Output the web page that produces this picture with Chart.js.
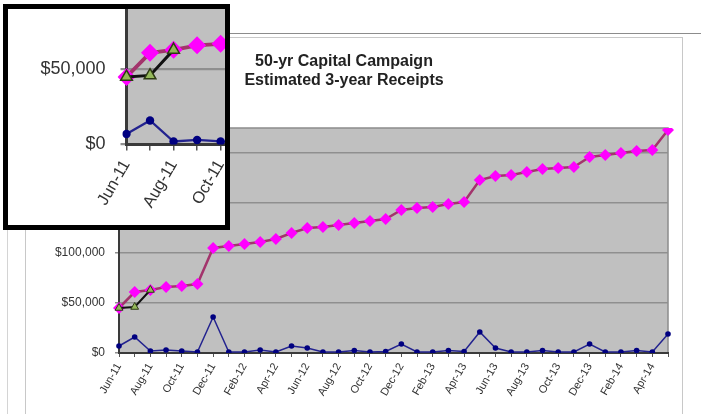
<!DOCTYPE html>
<html>
<head>
<meta charset="utf-8">
<script src="https://cdn.jsdelivr.net/npm/chart.js@4.4.0/dist/chart.umd.min.js"></script>
<style>
  html, body { margin: 0; padding: 0; background: #fff; }
  body { width: 701px; height: 414px; position: relative; overflow: hidden; }
  #frame { position: absolute; left: 7px; top: 33px; right: -2px; bottom: -2px; border-left: 1px solid #d4d4d4; border-top: 1px solid #8c8c8c; }
  #box { position: absolute; left: 25px; top: 37px; width: 656px; height: 400px; border: 1px solid #c8c8c8; }
  #main { position: absolute; left: 10px; top: 37px; }
  #inset { position: absolute; left: 3px; top: 4px; width: 217px; height: 216px; border: 5px solid #000; background: #fff; overflow: hidden; }
  #zoom { position: absolute; left: 0; top: 0; }
</style>
</head>
<body>
<div id="frame"></div>
<div id="box"></div>
<canvas id="main" width="672" height="377"></canvas>
<div id="inset"><canvas id="zoom" width="1008" height="566"></canvas></div>
<script>
// month labels Jun-11 .. May-14
const months = [
  'Jun-11', 'Jul-11', 'Aug-11', 'Sep-11', 'Oct-11', 'Nov-11', 'Dec-11',
  'Jan-12', 'Feb-12', 'Mar-12', 'Apr-12', 'May-12', 'Jun-12', 'Jul-12', 'Aug-12', 'Sep-12', 'Oct-12', 'Nov-12', 'Dec-12',
  'Jan-13', 'Feb-13', 'Mar-13', 'Apr-13', 'May-13', 'Jun-13', 'Jul-13', 'Aug-13', 'Sep-13', 'Oct-13', 'Nov-13', 'Dec-13',
  'Jan-14', 'Feb-14', 'Mar-14', 'Apr-14', 'May-14'
];

// y axis ticks
const yTicks = [0, 50000, 100000, 150000, 200000];

// cumulative receipts (pink diamonds)
const cumulative = [
  45000, 61000, 63000, 66000, 67000, 69000, 105000, 107000, 109000, 111000, 114000, 120000,
  125000, 126000, 128000, 130000, 132000, 134000, 143000, 145000, 146000, 149000, 151000, 173000,
  177000, 178000, 181000, 184000, 185000, 186000, 196000, 198000, 200000, 202000, 203000, 223000
];

// monthly receipts (blue dots)
const monthly = [
  7000, 16000, 2000, 3000, 2000, 1000, 36000, 1000, 1000, 3000, 1000, 7000,
  5000, 1000, 1000, 2500, 1000, 1500, 9000, 1000, 1000, 2500, 1500, 21000,
  5000, 1000, 1000, 2500, 1000, 1000, 9000, 1000, 1000, 2500, 1000, 19000
];

// actuals so far (green triangles)
const actual = [45000, 46000, 63000];

const FONT = "'Liberation Sans', Arial, sans-serif";

// gray plot area like the old excel chart
const plotBg = {
  id: 'plotBg',
  beforeDraw(chart, args, opts) {
    const { ctx, chartArea: a } = chart;
    ctx.save();
    ctx.fillStyle = '#c0c0c0';
    ctx.fillRect(a.left, a.top, a.width, a.height);
    ctx.strokeStyle = '#8c8c8c';
    ctx.lineWidth = 1.5 * opts.k;
    ctx.beginPath();
    ctx.moveTo(a.left, a.top);
    ctx.lineTo(a.right, a.top);
    ctx.lineTo(a.right, a.bottom);
    ctx.stroke();
    ctx.restore();
  }
};

// k = magnification, the inset is the same chart drawn bigger
function makeConfig(k) {
  return {
    type: 'line',
    data: {
      labels: months,
      datasets: [{
        label: 'Actual',
        data: actual,
        borderColor: '#111',
        borderWidth: 2 * k,
        pointStyle: 'triangle',
        pointRadius: 4.5 * k,
        pointBackgroundColor: '#94b85a',
        pointBorderColor: '#2e3b14',
        pointBorderWidth: k,
        order: 0
      }, {
        label: 'Cumulative',
        data: cumulative,
        borderColor: '#a3346c',
        borderWidth: 2.5 * k,
        pointStyle: 'rectRot',
        pointRadius: 6 * k,
        pointBackgroundColor: '#ff00ff',
        pointBorderColor: '#ff00ff',
        pointBorderWidth: 0,
        order: 1
      }, {
        label: 'Monthly',
        data: monthly,
        borderColor: '#23238f',
        borderWidth: 1.5 * k,
        pointStyle: 'circle',
        pointRadius: 2.8 * k,
        pointBackgroundColor: '#000080',
        pointBorderColor: '#000080',
        pointBorderWidth: 0,
        order: 2
      }]
    },
    options: {
      responsive: false,
      animation: false,
      devicePixelRatio: 1,
      layout: { padding: { left: 10 * k, right: 14 * k, top: 0, bottom: 0 } },
      scales: {
        x: {
          offset: false,
          grid: { drawOnChartArea: false, color: '#555', tickLength: 4 * k, lineWidth: k },
          border: { color: '#3a3a3a', width: 2 * k },
          ticks: {
            autoSkip: false,
            minRotation: 60,
            maxRotation: 60,
            padding: 4 * k,
            color: '#333',
            font: { family: FONT, size: 11 * k },
            callback: (v, i) => i % 2 ? '' : months[i]
          },
          afterFit: s => { s.paddingRight = 0; s.height = 61 * k; }
        },
        y: {
          min: 0,
          max: 225000,
          grid: { color: '#8f8f8f', lineWidth: 1.5 * k, tickLength: 4 * k },
          border: { color: '#3a3a3a', width: 2 * k },
          ticks: {
            padding: 10 * k,
            color: '#333',
            font: { family: FONT, size: 12 * k },
            callback: v => '$' + v.toLocaleString('en-US')
          },
          afterBuildTicks: s => { s.ticks = yTicks.map(v => ({ value: v })); },
          afterFit: s => { s.width = 99 * k; s.paddingTop = 0; }
        }
      },
      plugins: {
        legend: { display: false },
        tooltip: { enabled: false },
        title: {
          display: true,
          text: ['50-yr Capital Campaign', 'Estimated 3-year Receipts'],
          color: '#222',
          font: { family: FONT, size: 16 * k, weight: 'bold' },
          padding: { top: 15 * k, bottom: 37.6 * k }
        },
        plotBg: { k: k }
      }
    },
    plugins: [plotBg]
  };
}

const mainChart = new Chart(document.getElementById('main'), makeConfig(1));
const zoomChart = new Chart(document.getElementById('zoom'), makeConfig(1.5));

// line up the magnified copy so its Jun-11 / $0 corner sits where the inset shows it
const zc = document.getElementById('zoom');
zc.style.left = (118 - zoomChart.scales.x.getPixelForValue(0)) + 'px';
zc.style.top = (135 - zoomChart.scales.y.getPixelForValue(0)) + 'px';
</script>
</body>
</html>
